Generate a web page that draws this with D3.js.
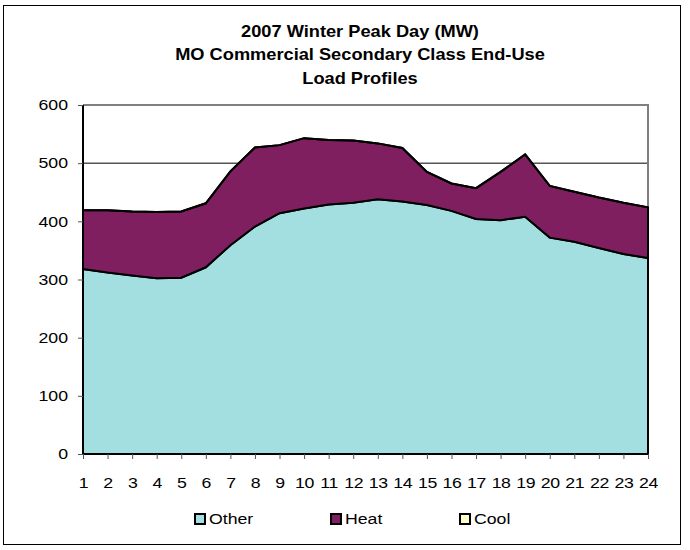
<!DOCTYPE html>
<html>
<head>
<meta charset="utf-8">
<script src="https://cdn.jsdelivr.net/npm/d3@7"></script>
<style>
  body { margin: 0; background: #fff; }
  svg { display: block; font-family: "Liberation Sans", Arial, sans-serif; }
</style>
</head>
<body>
<svg id="chart" width="690" height="550"></svg>
<script>
// Hours of the day
const hours = d3.range(1, 25);

// Series values (MW)
const otherValues = [318, 312, 307, 302, 303, 321, 359, 391, 414, 422, 429, 432,
  438, 434, 428, 418, 404, 402, 408, 372, 365, 354, 344, 337];
const heatValues = [101, 107, 110, 114, 114, 110, 127, 136, 117, 121, 111, 107,
  96, 92, 57, 47, 53, 83, 107, 89, 86, 87, 88, 87];
const coolValues = hours.map(() => 0);

const seriesNames = ['Other', 'Heat', 'Cool'];
const seriesColors = ['#a3dfe0', '#7f1f5f', '#ffffcc'];
const yTicks = [0, 100, 200, 300, 400, 500, 600];
const titleLines = [
  '2007 Winter Peak Day (MW)',
  'MO Commercial Secondary Class End-Use',
  'Load Profiles'
];

// the original text is rendered a bit wider than Arial, so stretch it horizontally
const textStretch = 1.18;
function stretch(sel, sx) {
  sel.attr('transform', function () {
    const x = +d3.select(this).attr('x') || 0;
    return `translate(${x},0) scale(${sx},1) translate(${-x},0)`;
  });
}

const svg = d3.select('#chart');

// Outer frame
svg.append('rect')
  .attr('x', 3.5)
  .attr('y', 5.5)
  .attr('width', 677)
  .attr('height', 539)
  .attr('fill', '#fff')
  .attr('stroke', '#000')
  .attr('stroke-width', 1);

// Title
svg.append('g')
  .selectAll('text')
  .data(titleLines)
  .enter()
  .append('text')
  .attr('x', 360)
  .attr('y', (d, i) => 37 + i * 23.5)
  .attr('text-anchor', 'middle')
  .attr('font-weight', 'bold')
  .attr('font-size', '16px')
  .text((d) => d)
  .call(stretch, 1.14);

// Plot area
const plotLeft = 83;
const plotRight = 648;
const plotTop = 105;
const plotBottom = 454;

const x = d3.scaleLinear().domain([1, 24]).range([plotLeft, plotRight]);
const y = d3.scaleLinear().domain([0, 600]).range([plotBottom, plotTop]);

// Gridlines
svg.append('g')
  .selectAll('line')
  .data(yTicks.filter((d) => d > 0 && d < 600))
  .enter()
  .append('line')
  .attr('x1', plotLeft)
  .attr('x2', plotRight)
  .attr('y1', (d) => y(d))
  .attr('y2', (d) => y(d))
  .attr('stroke', '#000')
  .attr('stroke-width', 1);

// Gray plot border (top and right)
svg.append('path')
  .attr('d', `M${plotLeft},${plotTop}H${plotRight}V${plotBottom}`)
  .attr('fill', 'none')
  .attr('stroke', '#808080')
  .attr('stroke-width', 2);

// Stacked areas
const table = hours.map((h, i) => ({
  hour: h,
  Other: otherValues[i],
  Heat: heatValues[i],
  Cool: coolValues[i]
}));

const stacked = d3.stack().keys(seriesNames)(table);

const area = d3.area()
  .x((d) => x(d.data.hour))
  .y0((d) => y(d[0]))
  .y1((d) => y(d[1]));

svg.append('g')
  .selectAll('path')
  .data(stacked)
  .enter()
  .append('path')
  .attr('d', area)
  .attr('fill', (d, i) => seriesColors[i])
  .attr('stroke', '#000')
  .attr('stroke-width', 2)
  .attr('stroke-linejoin', 'miter');

// Y axis
const yAxis = d3.axisLeft(y)
  .tickValues(yTicks)
  .tickSize(5)
  .tickPadding(10);

const yg = svg.append('g')
  .attr('transform', `translate(${plotLeft},0)`)
  .call(yAxis);
yg.select('.domain').attr('stroke-width', 2).attr('d', `M0,${plotTop}V${plotBottom}`);
yg.selectAll('.tick line').attr('stroke', '#555');
yg.selectAll('text')
  .attr('font-family', '"Liberation Sans", Arial, sans-serif')
  .attr('font-size', '15px')
  .attr('fill', '#000')
  .call(stretch, textStretch);

// X axis
const xAxis = d3.axisBottom(x)
  .tickValues(hours)
  .tickFormat(d3.format('d'))
  .tickSize(5)
  .tickPadding(18);

const xg = svg.append('g')
  .attr('transform', `translate(0,${plotBottom})`)
  .call(xAxis);
xg.select('.domain').attr('stroke-width', 2).attr('d', `M${plotLeft},0H${plotRight}`);
xg.selectAll('.tick line').attr('stroke', '#555');
xg.selectAll('text')
  .attr('font-family', '"Liberation Sans", Arial, sans-serif')
  .attr('font-size', '15px')
  .attr('letter-spacing', '-0.3px')
  .attr('fill', '#000')
  .call(stretch, textStretch);

// Legend
const legendX = [194, 330, 459];
const legend = svg.append('g')
  .selectAll('g')
  .data(seriesNames)
  .enter()
  .append('g')
  .attr('transform', (d, i) => `translate(${legendX[i]},0)`);

legend.append('rect')
  .attr('x', 1)
  .attr('y', 514)
  .attr('width', 10)
  .attr('height', 10)
  .attr('fill', (d, i) => seriesColors[i])
  .attr('stroke', '#000')
  .attr('stroke-width', 2);

legend.append('text')
  .attr('x', 15)
  .attr('y', 524)
  .attr('font-size', '15px')
  .text((d) => d)
  .call(stretch, textStretch);
</script>
</body>
</html>
